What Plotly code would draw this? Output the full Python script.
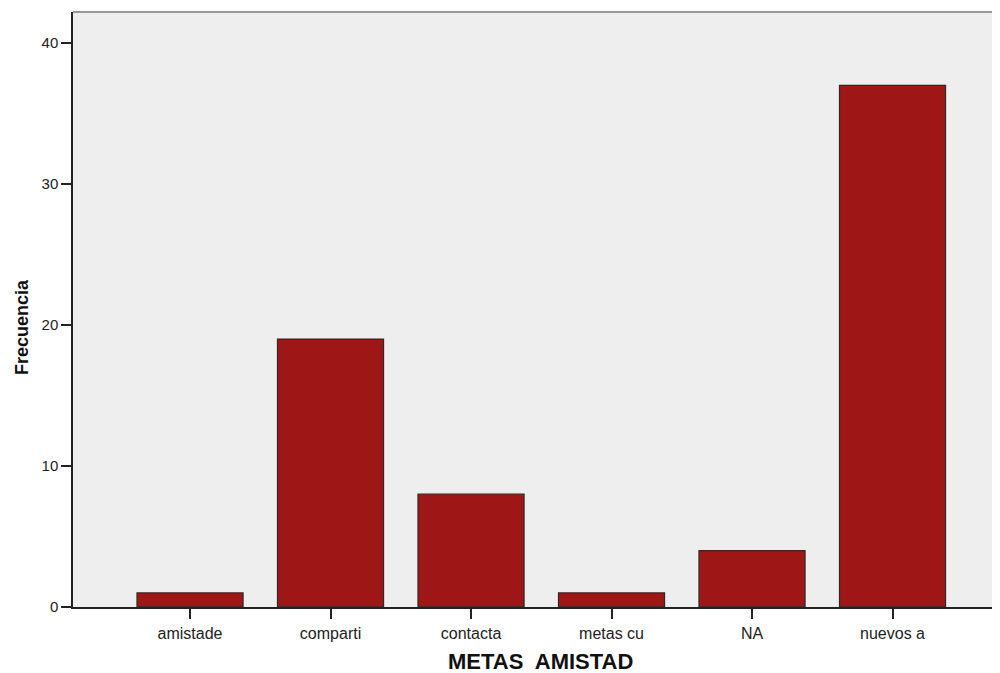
import plotly.graph_objects as go

categories = ["amistade", "comparti", "contacta", "metas cu", "NA", "nuevos a"]
frecuencia = [1, 19, 8, 1, 4, 37]
y_ticks = [0, 10, 20, 30, 40]

fig = go.Figure()
fig.add_trace(go.Bar(
    x=list(range(len(categories))),
    y=frecuencia,
    marker=dict(color="#9e1716", line=dict(color="#2a2a2a", width=1.2)),
    width=0.755,
))

fig.update_layout(
    width=992, height=665,
    margin=dict(l=65, r=0, t=4, b=66),
    paper_bgcolor="white",
    plot_bgcolor="#eeeeee",
    showlegend=False,
    font=dict(family="Liberation Sans, Arial, sans-serif", color="#222"),
    xaxis=dict(
        range=[-0.833, 5.765],
        automargin=False,
        tickmode="array",
        tickvals=list(range(len(categories))),
        ticktext=categories,
        ticks="outside", ticklen=10, tickwidth=1.5, tickcolor="#222",
        showline=True, linecolor="#222", linewidth=1.5,
        showgrid=False, zeroline=False,
        tickfont=dict(size=16),
        ticklabelstandoff=1,
    ),
    yaxis=dict(
        range=[0, 42.2],
        automargin=False,
        tickmode="array",
        tickvals=y_ticks,
        ticks="outside", ticklen=10, tickwidth=1.5, tickcolor="#222",
        showline=True, linecolor="#222", linewidth=1.5,
        showgrid=False, zeroline=False,
        tickfont=dict(size=15),
    ),
    annotations=[
        dict(text="<b>Frecuencia</b>", textangle=-90, showarrow=False,
             xref="paper", yref="paper", x=0, y=0.4706,
             xanchor="center", yanchor="middle", xshift=-51,
             font=dict(size=18, color="#111")),
        dict(text="<b>METAS  AMISTAD</b>", showarrow=False,
             xref="paper", yref="paper", x=0.504, y=0,
             xanchor="center", yanchor="middle", yshift=-54,
             font=dict(size=22, color="#111")),
    ],
    shapes=[dict(type="line", xref="paper", yref="paper", x0=0, x1=1, y0=1, y1=1,
                 line=dict(color="#999999", width=2))],
)

fig.write_html("out.html", post_script="document.body.style.overflow='hidden';document.documentElement.style.overflow='hidden';")
